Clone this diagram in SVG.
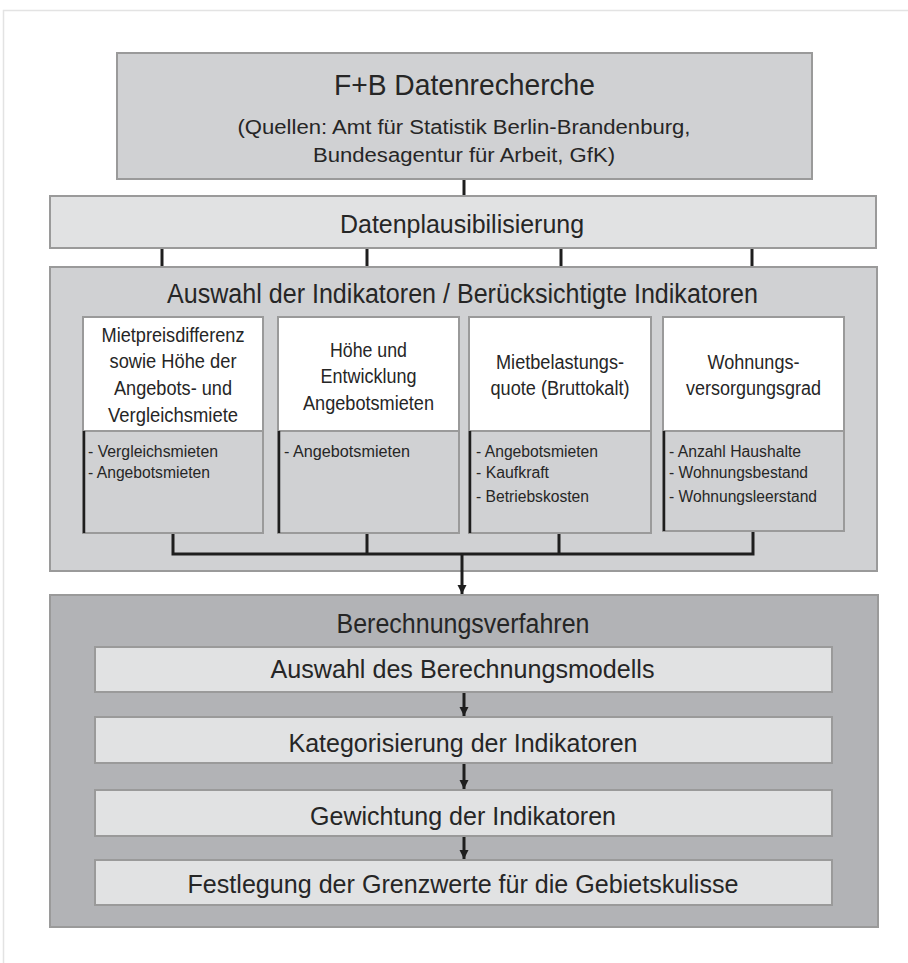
<svg xmlns="http://www.w3.org/2000/svg" width="908" height="963" viewBox="0 0 908 963">
<style>
text{font-family:"Liberation Sans",Arial,sans-serif;fill:#262626;}
.c{text-anchor:middle;}
.box{stroke:#9a9a9a;stroke-width:2;}
.mid{fill:#d0d1d3;}
.light{fill:#e1e2e3;}
.dark{fill:#b2b3b6;}
.hdr{fill:#ffffff;}
.con{stroke:#1e1e1e;stroke-width:3;fill:none;}
.sh{stroke:#1e1e1e;stroke-width:2.5;}
.h{font-size:20px;}
.l{font-size:16px;}
</style>
<defs>
<marker id="ah" markerWidth="10" markerHeight="10" refX="9" refY="5" orient="auto" markerUnits="userSpaceOnUse" viewBox="0 0 10 10">
<path d="M0,0.5 L9,5 L0,9.5 Z" fill="#1e1e1e"/>
</marker>
</defs>
<rect x="0" y="0" width="908" height="963" fill="#ffffff"/>
<path d="M3.5,963 L3.5,10.5 L908,10.5" fill="none" stroke="#e3e3e3" stroke-width="1.5"/>

<g id="datenrecherche">
<rect class="box mid" x="117" y="53" width="695" height="126"/>
<text class="c" x="464.5" y="95" font-size="30" textLength="261" lengthAdjust="spacingAndGlyphs">F+B Datenrecherche</text>
<text class="c" x="464" y="134" font-size="20" textLength="453" lengthAdjust="spacingAndGlyphs">(Quellen: Amt für Statistik Berlin-Brandenburg,</text>
<text class="c" x="464" y="162" font-size="20" textLength="302" lengthAdjust="spacingAndGlyphs">Bundesagentur für Arbeit, GfK)</text>
</g>

<g id="plausibilisierung">
<rect class="box light" x="50" y="196" width="826" height="52"/>
<text class="c" x="462" y="233" font-size="25" textLength="244" lengthAdjust="spacingAndGlyphs">Datenplausibilisierung</text>
</g>

<g id="auswahl">
<rect class="box mid" x="50" y="267" width="827" height="304"/>
<text class="c" x="462.5" y="303" font-size="27" textLength="591" lengthAdjust="spacingAndGlyphs">Auswahl der Indikatoren / Berücksichtigte Indikatoren</text>
</g>

<g id="ind1">
<rect class="box mid" x="83" y="317" width="180" height="216"/>
<rect class="box hdr" x="83" y="317" width="180" height="114"/>
<line class="sh" x1="84" y1="431" x2="84" y2="533"/>
<text class="c h" x="173" y="342" textLength="143" lengthAdjust="spacingAndGlyphs">Mietpreisdifferenz</text>
<text class="c h" x="173" y="368" textLength="127" lengthAdjust="spacingAndGlyphs">sowie Höhe der</text>
<text class="c h" x="173" y="395" textLength="118" lengthAdjust="spacingAndGlyphs">Angebots- und</text>
<text class="c h" x="173" y="422" textLength="130" lengthAdjust="spacingAndGlyphs">Vergleichsmiete</text>
<text class="l" x="88" y="457" textLength="130" lengthAdjust="spacingAndGlyphs">- Vergleichsmieten</text>
<text class="l" x="88" y="478" textLength="122" lengthAdjust="spacingAndGlyphs">- Angebotsmieten</text>
</g>

<g id="ind2">
<rect class="box mid" x="278" y="317" width="181" height="216"/>
<rect class="box hdr" x="278" y="317" width="181" height="114"/>
<line class="sh" x1="279" y1="431" x2="279" y2="533"/>
<text class="c h" x="368.5" y="357" textLength="77" lengthAdjust="spacingAndGlyphs">Höhe und</text>
<text class="c h" x="368.5" y="383" textLength="96" lengthAdjust="spacingAndGlyphs">Entwicklung</text>
<text class="c h" x="368.5" y="410" textLength="131" lengthAdjust="spacingAndGlyphs">Angebotsmieten</text>
<text class="l" x="284" y="457" textLength="126" lengthAdjust="spacingAndGlyphs">-  Angebotsmieten</text>
</g>

<g id="ind3">
<rect class="box mid" x="469" y="317" width="182" height="216"/>
<rect class="box hdr" x="469" y="317" width="182" height="114"/>
<line class="sh" x1="470" y1="431" x2="470" y2="533"/>
<text class="c h" x="560" y="369" textLength="128" lengthAdjust="spacingAndGlyphs">Mietbelastungs-</text>
<text class="c h" x="560" y="395" textLength="139" lengthAdjust="spacingAndGlyphs">quote (Bruttokalt)</text>
<text class="l" x="476" y="457" textLength="122" lengthAdjust="spacingAndGlyphs">- Angebotsmieten</text>
<text class="l" x="476" y="478" textLength="73" lengthAdjust="spacingAndGlyphs">- Kaufkraft</text>
<text class="l" x="476" y="502" textLength="113" lengthAdjust="spacingAndGlyphs">- Betriebskosten</text>
</g>

<g id="ind4">
<rect class="box mid" x="663" y="317" width="181" height="214"/>
<rect class="box hdr" x="663" y="317" width="181" height="114"/>
<line class="sh" x1="664" y1="431" x2="664" y2="531"/>
<text class="c h" x="753.5" y="369" textLength="92" lengthAdjust="spacingAndGlyphs">Wohnungs-</text>
<text class="c h" x="753.5" y="395" textLength="135" lengthAdjust="spacingAndGlyphs">versorgungsgrad</text>
<text class="l" x="669" y="457" textLength="132" lengthAdjust="spacingAndGlyphs">- Anzahl Haushalte</text>
<text class="l" x="669" y="478" textLength="139" lengthAdjust="spacingAndGlyphs">- Wohnungsbestand</text>
<text class="l" x="669" y="502" textLength="148" lengthAdjust="spacingAndGlyphs">- Wohnungsleerstand</text>
</g>

<g id="berechnung">
<rect class="box dark" x="50" y="595" width="828" height="332"/>
<text class="c" x="463" y="633" font-size="27" textLength="253" lengthAdjust="spacingAndGlyphs">Berechnungsverfahren</text>
</g>

<g id="schritt1">
<rect class="box light" x="95" y="647" width="737" height="45"/>
<text class="c" x="462.5" y="678" font-size="25" textLength="384" lengthAdjust="spacingAndGlyphs">Auswahl des Berechnungsmodells</text>
</g>
<g id="schritt2">
<rect class="box light" x="95" y="717" width="737" height="46"/>
<text class="c" x="463" y="752" font-size="25" textLength="349" lengthAdjust="spacingAndGlyphs">Kategorisierung der Indikatoren</text>
</g>
<g id="schritt3">
<rect class="box light" x="95" y="790" width="737" height="46"/>
<text class="c" x="463" y="825" font-size="25" textLength="306" lengthAdjust="spacingAndGlyphs">Gewichtung der Indikatoren</text>
</g>
<g id="schritt4">
<rect class="box light" x="95" y="860" width="737" height="45"/>
<text class="c" x="463" y="893" font-size="25" textLength="551" lengthAdjust="spacingAndGlyphs">Festlegung der Grenzwerte für die Gebietskulisse</text>
</g>

<g id="connectors">
<line class="con" x1="464" y1="180" x2="464" y2="195"/>
<line class="con" x1="162" y1="249" x2="162" y2="266"/>
<line class="con" x1="367" y1="249" x2="367" y2="266"/>
<line class="con" x1="561" y1="249" x2="561" y2="266"/>
<line class="con" x1="752" y1="249" x2="752" y2="266"/>
<path class="con" d="M173,534 L173,554 L753,554 L753,532 M367,534 L367,554 M559,534 L559,554"/>
<line class="con" x1="462" y1="554" x2="462" y2="594" marker-end="url(#ah)"/>
<line class="con" x1="464" y1="693" x2="464" y2="716" marker-end="url(#ah)"/>
<line class="con" x1="464" y1="764" x2="464" y2="789" marker-end="url(#ah)"/>
<line class="con" x1="464" y1="837" x2="464" y2="859" marker-end="url(#ah)"/>
</g>
</svg>
